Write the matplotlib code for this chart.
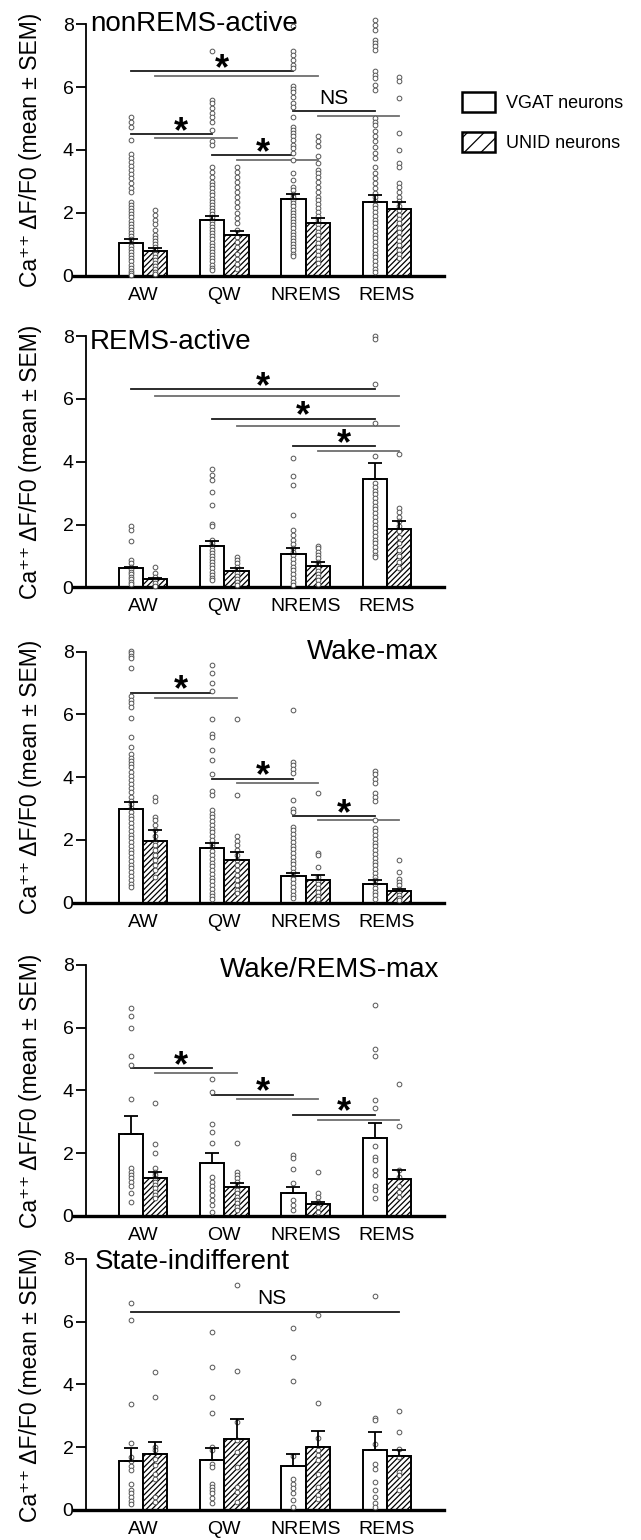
import numpy as np
import matplotlib.pyplot as plt
from matplotlib.patches import Patch

plt.rcParams['font.family'] = ['Liberation Sans', 'DejaVu Sans']
plt.rcParams['hatch.linewidth'] = 0.9
plt.rcParams['hatch.color'] = '#222222'

states = ["AW", "QW", "NREMS", "REMS"]
titles = ["nonREMS-active", "REMS-active", "Wake-max", "Wake/REMS-max", "State-indifferent"]

# ---- panel 1: nonREMS-active
p1_vgat_mean = [1.02, 1.77, 2.43, 2.34]
p1_vgat_sem = [0.13, 0.13, 0.17, 0.22]
p1_unid_mean = [0.79, 1.28, 1.68, 2.12]
p1_unid_sem = [0.07, 0.15, 0.15, 0.23]
p1_vgat_pts = [
    [5.06, 4.9, 4.74, 4.32, 3.87, 3.75, 3.62, 3.48, 3.35, 3.22, 3.1, 2.94, 2.8, 2.67, 2.35, 2.25, 2.15, 2.05,
     1.95, 1.85, 1.75, 1.65, 1.55, 1.45, 1.35, 1.25, 1.15, 1.05, 0.95, 0.85, 0.75, 0.65, 0.55, 0.45, 0.35,
     0.25, 0.15, 0.08, 0.03],
    [7.14, 5.6, 5.5, 5.33, 5.17, 5.04, 4.9, 4.64, 4.27, 4.16, 3.47, 3.3, 3.15, 2.99, 2.88, 2.78, 2.67, 2.56,
     2.45, 2.35, 2.25, 2.15, 2.05, 1.95, 1.85, 1.75, 1.65, 1.55, 1.45, 1.35, 1.25, 1.15, 1.05, 0.95, 0.85,
     0.75, 0.65, 0.55, 0.45, 0.35, 0.25, 0.17],
    [7.94, 7.14, 7.03, 6.87, 6.71, 6.6, 6.04, 5.94, 5.83, 5.7, 5.49, 5.36, 5.06, 4.74, 4.64, 4.53, 4.43, 4.32,
     4.16, 4.05, 3.89, 3.68, 3.26, 3.04, 2.83, 2.72, 2.6, 2.5, 2.4, 2.3, 2.2, 2.1, 2.0, 1.9, 1.8, 1.7, 1.6,
     1.5, 1.4, 1.3, 1.2, 1.1, 1.0, 0.9, 0.8, 0.7, 0.62],
    [8.15, 7.99, 7.83, 7.51, 7.4, 7.3, 7.19, 6.5, 6.39, 6.29, 6.07, 5.91, 5.01, 4.9, 4.8, 4.59, 4.43, 4.27,
     4.1, 3.89, 3.73, 3.47, 3.26, 3.1, 2.94, 2.78, 2.62, 2.5, 2.38, 2.26, 2.14, 2.02, 1.9, 1.78, 1.66, 1.54,
     1.42, 1.3, 1.18, 1.06, 0.94, 0.82, 0.7, 0.58, 0.46, 0.34, 0.22, 0.12],
]
p1_unid_pts = [
    [2.09, 1.93, 1.77, 1.64, 1.45, 1.3, 1.2, 1.1, 1.0, 0.9, 0.8, 0.7, 0.6, 0.5, 0.4, 0.3, 0.2, 0.12, 0.05],
    [3.47, 3.3, 3.15, 2.99, 2.83, 2.67, 2.51, 2.35, 2.19, 1.98, 1.82, 1.66, 1.45, 1.23, 1.07, 0.91, 0.7,
     0.54, 0.38, 0.22],
    [4.43, 4.27, 4.11, 3.79, 3.57, 3.36, 3.26, 3.15, 2.99, 2.83, 2.67, 2.51, 2.4, 2.28, 2.15, 2.02, 1.9,
     1.78, 1.65, 1.52, 1.4, 1.28, 1.15, 1.02, 0.9, 0.78, 0.65, 0.52, 0.4],
    [6.32, 6.18, 5.65, 4.53, 4.0, 3.57, 3.47, 2.94, 2.83, 2.67, 2.51, 2.36, 2.22, 2.08, 1.94, 1.8, 1.66,
     1.52, 1.38, 1.24, 1.1, 0.96, 0.82, 0.68, 0.55],
]

# ---- panel 2: REMS-active
p2_vgat_mean = [0.6, 1.3, 1.06, 3.46]
p2_vgat_sem = [0.06, 0.19, 0.18, 0.5]
p2_unid_mean = [0.27, 0.53, 0.69, 1.87]
p2_unid_sem = [0.04, 0.07, 0.1, 0.23]
p2_vgat_pts = [
    [1.94, 1.83, 1.49, 0.87, 0.77, 0.66, 0.58, 0.5, 0.42, 0.34, 0.26, 0.18, 0.1],
    [3.77, 3.59, 3.43, 3.05, 2.61, 2.02, 1.94, 1.51, 1.4, 1.3, 1.2, 1.1, 1.0, 0.9, 0.8, 0.7, 0.6, 0.5,
     0.4, 0.3, 0.23],
    [4.12, 3.55, 3.27, 2.31, 1.83, 1.67, 1.5, 1.38, 1.26, 1.14, 1.02, 0.9, 0.78, 0.66, 0.54, 0.42, 0.3,
     0.18, 0.07],
    [8.0, 7.91, 6.49, 5.23, 4.19, 3.32, 3.2, 3.08, 2.96, 2.84, 2.72, 2.6, 2.48, 2.36, 2.24, 2.12, 2.0,
     1.88, 1.76, 1.64, 1.52, 1.4, 1.28, 1.16, 1.04, 0.98],
]
p2_unid_pts = [
    [0.66, 0.45, 0.34, 0.23, 0.13, 0.05],
    [0.96, 0.87, 0.77, 0.66, 0.56, 0.46, 0.36, 0.26, 0.16, 0.07],
    [1.32, 1.24, 1.14, 1.03, 0.92, 0.82, 0.72, 0.62, 0.52, 0.42, 0.32, 0.22, 0.12],
    [4.24, 2.52, 2.41, 2.25, 2.1, 1.95, 1.8, 1.6, 1.4, 1.2, 1.0, 0.8, 0.61],
]

# ---- panel 3: Wake-max
p3_vgat_mean = [2.98, 1.75, 0.84, 0.61]
p3_vgat_sem = [0.23, 0.16, 0.09, 0.11]
p3_unid_mean = [1.98, 1.35, 0.72, 0.37]
p3_unid_sem = [0.34, 0.26, 0.16, 0.08]
p3_vgat_pts = [
    [8.02, 7.95, 7.87, 7.8, 7.49, 6.58, 6.47, 6.36, 6.23, 5.87, 5.28, 4.96, 4.73, 4.62, 4.52, 4.41, 4.31,
     4.15, 4.04, 3.91, 3.78, 3.65, 3.51, 3.36, 3.25, 3.13, 3.01, 2.89, 2.77, 2.65, 2.53, 2.41, 2.29, 2.17,
     2.05, 1.93, 1.81, 1.69, 1.57, 1.45, 1.33, 1.21, 1.09, 0.97, 0.85, 0.73, 0.61, 0.5],
    [7.56, 7.31, 7.0, 6.75, 5.84, 5.38, 5.28, 4.86, 4.56, 4.1, 3.55, 3.44, 2.96, 2.84, 2.72, 2.6, 2.48,
     2.36, 2.24, 2.12, 2.0, 1.88, 1.76, 1.64, 1.52, 1.4, 1.28, 1.16, 1.04, 0.92, 0.8, 0.68, 0.56, 0.44,
     0.32, 0.2, 0.12],
    [6.15, 4.49, 4.39, 4.25, 4.13, 3.27, 2.99, 2.88, 2.41, 2.3, 2.18, 2.06, 1.94, 1.82, 1.7, 1.58, 1.46,
     1.34, 1.22, 1.1, 0.98, 0.86, 0.74, 0.62, 0.5, 0.38, 0.26, 0.14],
    [4.2, 4.1, 3.94, 3.8, 3.48, 3.38, 3.25, 2.64, 2.39, 2.27, 2.15, 2.03, 1.91, 1.79, 1.67, 1.55, 1.43,
     1.31, 1.19, 1.07, 0.95, 0.83, 0.71, 0.59, 0.47, 0.35, 0.23, 0.12],
]
p3_unid_pts = [
    [3.38, 3.23, 2.74, 2.62, 2.46, 2.3, 2.14, 1.98, 1.83, 1.67, 1.51, 1.35, 1.19, 1.03, 0.82],
    [5.84, 3.44, 2.14, 1.98, 1.83, 1.67, 1.51, 1.35, 1.19, 1.03, 0.87, 0.71, 0.55, 0.4, 0.3],
    [3.48, 1.59, 1.51, 1.14, 0.82, 0.7, 0.58, 0.46, 0.34, 0.22, 0.12],
    [1.37, 0.98, 0.77, 0.66, 0.55, 0.45, 0.35, 0.25, 0.15, 0.08],
]

# ---- panel 4: Wake/REMS-max
p4_vgat_mean = [2.6, 1.68, 0.74, 2.47]
p4_vgat_sem = [0.59, 0.34, 0.17, 0.48]
p4_unid_mean = [1.22, 0.91, 0.37, 1.17]
p4_unid_sem = [0.19, 0.13, 0.09, 0.28]
p4_vgat_pts = [
    [6.62, 6.36, 5.98, 5.08, 4.81, 3.72, 1.52, 1.41, 1.31, 1.2, 1.09, 0.94, 0.72, 0.43],
    [4.36, 3.96, 2.93, 2.66, 2.32, 1.25, 1.09, 0.96, 0.83, 0.67, 0.51, 0.35, 0.14],
    [1.94, 1.84, 1.49, 1.04, 0.51, 0.35, 0.19],
    [6.73, 5.31, 5.1, 3.7, 3.45, 2.23, 1.89, 1.79, 1.45, 1.31, 0.94, 0.83, 0.56],
]
p4_unid_pts = [
    [3.61, 2.3, 2.0, 1.52, 1.41, 1.3, 1.2, 1.09, 0.99, 0.88, 0.78, 0.67, 0.57],
    [2.34, 1.41, 1.31, 1.2, 1.09, 0.94, 0.83, 0.72, 0.61, 0.51, 0.4, 0.3, 0.19],
    [1.41, 0.74, 0.62, 0.46, 0.3, 0.14],
    [4.2, 2.88, 1.47, 1.25, 0.94, 0.78, 0.62],
]

# ---- panel 5: State-indifferent
p5_vgat_mean = [1.56, 1.6, 1.39, 1.92]
p5_vgat_sem = [0.41, 0.37, 0.38, 0.55]
p5_unid_mean = [1.77, 2.27, 2.0, 1.71]
p5_unid_sem = [0.4, 0.64, 0.51, 0.19]
p5_vgat_pts = [
    [6.6, 6.04, 3.38, 2.13, 1.69, 1.56, 1.39, 1.27, 0.84, 0.65, 0.53, 0.42, 0.28, 0.18],
    [5.67, 4.54, 3.59, 3.09, 2.0, 1.9, 1.48, 1.37, 0.84, 0.74, 0.63, 0.53, 0.37, 0.23],
    [5.8, 4.88, 4.1, 1.71, 1.0, 0.84, 0.69, 0.53, 0.32, 0.11],
    [6.81, 2.93, 2.87, 2.11, 1.48, 1.32, 0.9, 0.63, 0.42, 0.21, 0.11],
]
p5_unid_pts = [
    [4.38, 3.61, 2.0, 1.9, 1.64, 1.42, 1.16, 1.0, 0.42, 0.26],
    [7.18, 4.43, 2.8, 2.22, 1.85, 1.37, 0.74, 0.58, 0.26],
    [6.21, 3.41, 2.29, 1.9, 1.74, 1.58, 1.16, 0.74, 0.47, 0.34],
    [3.15, 2.47, 1.95, 1.69, 1.21, 1.11, 0.65],
]

# significance brackets: (from state, to state, y VGAT line, y UNID line, text)
p1_sig = [(0, 2, 6.5, 6.35, "*"), (2, 3, 5.23, 5.07, "NS"), (0, 1, 4.5, 4.38, "*"), (1, 2, 3.83, 3.67, "*")]
p2_sig = [(0, 3, 6.3, 6.1, "*"), (1, 3, 5.37, 5.13, "*"), (2, 3, 4.49, 4.33, "*")]
p3_sig = [(0, 1, 6.68, 6.52, "*"), (1, 2, 3.94, 3.8, "*"), (2, 3, 2.75, 2.62, "*")]
p4_sig = [(0, 1, 4.7, 4.55, "*"), (1, 2, 3.86, 3.73, "*"), (2, 3, 3.22, 3.06, "*")]

panels = [
    (p1_vgat_mean, p1_vgat_sem, p1_unid_mean, p1_unid_sem, p1_vgat_pts, p1_unid_pts, p1_sig),
    (p2_vgat_mean, p2_vgat_sem, p2_unid_mean, p2_unid_sem, p2_vgat_pts, p2_unid_pts, p2_sig),
    (p3_vgat_mean, p3_vgat_sem, p3_unid_mean, p3_unid_sem, p3_vgat_pts, p3_unid_pts, p3_sig),
    (p4_vgat_mean, p4_vgat_sem, p4_unid_mean, p4_unid_sem, p4_vgat_pts, p4_unid_pts, p4_sig),
    (p5_vgat_mean, p5_vgat_sem, p5_unid_mean, p5_unid_sem, p5_vgat_pts, p5_unid_pts, []),
]

W, H = 641, 1540
fig = plt.figure(figsize=(W / 100, H / 100), dpi=100)

zero_px = [275.5, 587.3, 902.7, 1216, 1510]   # pixel row of y=0 in each panel
px_per_unit = 31.4
ytop = 8.6
bw = 0.3
x = np.arange(4)
xv = x - bw / 2
xu = x + bw / 2

title_pos = [(-0.65, 8.0, "left"), (-0.65, 7.82, "left"), (3.64, 8.0, "right"),
             (3.64, 7.83, "right"), (-0.59, 7.9, "left")]

for k, (vm, vs, um, us, vpts, upts, sig) in enumerate(panels):
    y0 = zero_px[k]
    ax = fig.add_axes([74 / W, 1 - y0 / H, 370 / W, ytop * px_per_unit / H])
    ax.set_xlim(-0.849, 3.702)
    ax.set_ylim(0, ytop)

    ax.bar(xv, vm, width=bw, color="white", edgecolor="black", linewidth=1.4, zorder=2)
    ax.bar(xu, um, width=bw, color="white", edgecolor="black", linewidth=1.4, hatch="//////", zorder=2)

    for i in range(4):
        ax.plot(np.full(len(vpts[i]), xv[i]), vpts[i], "o", ms=3.4, mfc="white", mec="#555555",
                mew=0.7, zorder=5, clip_on=False)
        ax.plot(np.full(len(upts[i]), xu[i]), upts[i], "o", ms=3.4, mfc="white", mec="#555555",
                mew=0.7, zorder=5, clip_on=False)

    ax.errorbar(xv, vm, yerr=[np.zeros(4), vs], fmt="none", ecolor="black", elinewidth=1.3,
                capsize=5, capthick=1.3, zorder=6)
    ax.errorbar(xu, um, yerr=[np.zeros(4), us], fmt="none", ecolor="black", elinewidth=1.3,
                capsize=5, capthick=1.3, zorder=6)

    for a, b, yb, yg, txt in sig:
        ax.plot([xv[a], xv[b]], [yb, yb], color="#1a1a1a", lw=1.3, zorder=3)
        ax.plot([xu[a], xu[b]], [yg, yg], color="#6e6e6e", lw=1.3, zorder=3)
        if txt == "*":
            ax.text((xv[a] + xv[b]) / 2 + 0.12, yb + 0.06, "*", fontsize=26, fontweight="bold",
                    ha="center", va="center", zorder=7)
        else:
            ax.text((xv[a] + xv[b]) / 2, yb + 0.12, txt, fontsize=15, ha="center", va="bottom", zorder=7)

    if k == 4:
        ax.plot([xv[0], xu[3]], [6.31, 6.31], color="#1a1a1a", lw=1.3, zorder=3)
        ax.text(1.58, 6.42, "NS", fontsize=15, ha="center", va="bottom", zorder=7)

    tx, ty, tha = title_pos[k]
    ax.text(tx, ty, titles[k], fontsize=20, ha=tha, va="center", zorder=7)

    for s in ["top", "right"]:
        ax.spines[s].set_visible(False)
    ax.spines["left"].set_position(("data", -0.701))
    ax.spines["left"].set_bounds(0, 8)
    ax.spines["left"].set_linewidth(1.3)
    ax.spines["bottom"].set_linewidth(2.4)
    ax.set_yticks([0, 2, 4, 6, 8])
    ax.set_xticks(x)
    ax.set_xticklabels(states)
    ax.tick_params(axis="y", direction="out", length=7, width=1.3, pad=2, labelsize=14)
    ax.tick_params(axis="x", length=0, pad=8, labelsize=14)

    fig.text(31 / W, 1 - (y0 - 4 * px_per_unit) / H, "Ca\u207a\u207a \u0394F/F0 (mean \u00b1 SEM)",
             rotation=90, ha="center", va="center", fontsize=16.5)

handles = [Patch(facecolor="white", edgecolor="black", linewidth=1.8),
           Patch(facecolor="white", edgecolor="black", linewidth=1.8, hatch="//")]
fig.legend(handles, ["VGAT neurons", "UNID neurons"], loc="upper left",
           bbox_to_anchor=(462 / W, 1 - 92 / H), frameon=False, fontsize=13, borderpad=0,
           borderaxespad=0, handlelength=1.85, handleheight=1.35, handletextpad=0.6,
           labelspacing=1.1)

fig.savefig("out.png", dpi=100)
